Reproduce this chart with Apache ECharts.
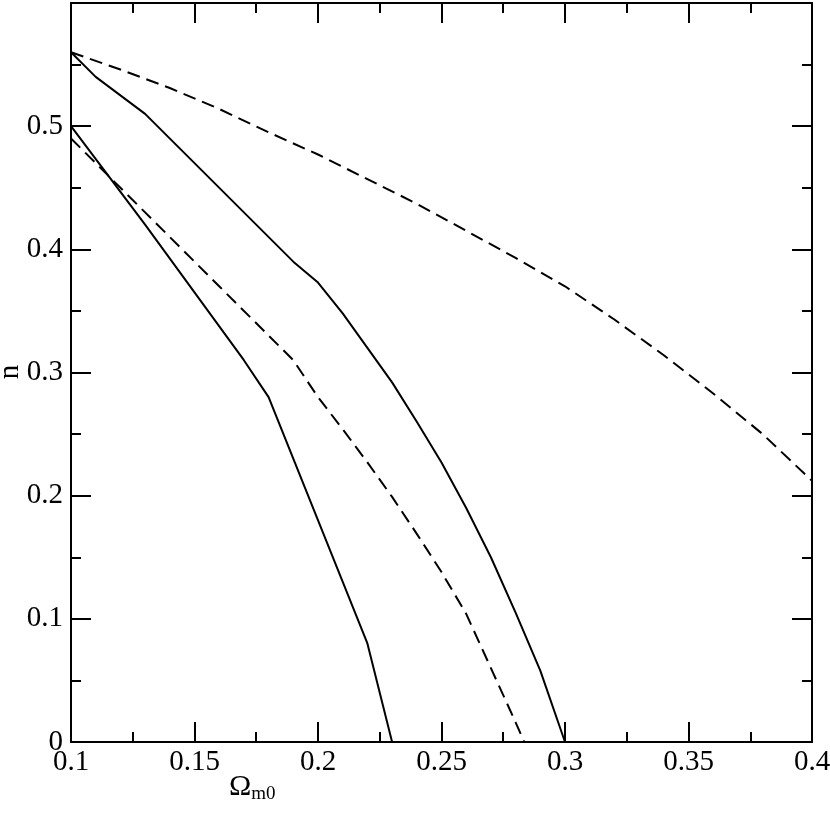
<!DOCTYPE html>
<html>
<head>
<meta charset="utf-8">
<script src="https://cdn.jsdelivr.net/npm/echarts@6/dist/echarts.min.js"></script>
<style>
  html, body { margin: 0; padding: 0; background: #fff; }
  #chart { width: 830px; height: 818px; }
</style>
</head>
<body>
<div id="chart"></div>
<script>
// solid curves
const solidOuterX = [0.1, 0.11, 0.13, 0.19, 0.2, 0.21, 0.22, 0.23, 0.24, 0.25, 0.26, 0.27, 0.28, 0.29, 0.3];
const solidOuterY = [0.56, 0.54, 0.51, 0.39, 0.373, 0.348, 0.32, 0.292, 0.26, 0.227, 0.19, 0.15, 0.105, 0.058, 0];
const solidInnerX = [0.1, 0.13, 0.17, 0.18, 0.22, 0.23];
const solidInnerY = [0.5, 0.42, 0.31, 0.28, 0.08, 0];

// dashed curves
const dashOuterX = [0.1, 0.12, 0.14, 0.16, 0.18, 0.2, 0.22, 0.24, 0.26, 0.28, 0.3, 0.32, 0.34, 0.36, 0.38, 0.4];
const dashOuterY = [0.56, 0.546, 0.531, 0.514, 0.495, 0.477, 0.457, 0.437, 0.415, 0.393, 0.37, 0.343, 0.314, 0.283, 0.25, 0.212];
const dashInnerX = [0.1, 0.13, 0.16, 0.19, 0.2, 0.21, 0.22, 0.23, 0.24, 0.25, 0.26, 0.27, 0.28, 0.2835];
const dashInnerY = [0.49, 0.43, 0.37, 0.31, 0.28, 0.254, 0.227, 0.199, 0.169, 0.138, 0.104, 0.06, 0.016, 0];

const FONT = "Liberation Serif";

function pairs(xs, ys) {
  return xs.map((x, i) => [x, ys[i]]);
}

function curve(xs, ys, dashed) {
  return {
    type: "line",
    data: pairs(xs, ys),
    showSymbol: false,
    silent: true,
    lineStyle: { color: "#000", width: 2, type: dashed ? [13, 7] : "solid" },
  };
}

const chart = echarts.init(document.getElementById("chart"), null, { renderer: "canvas" });

const tickCommon = {
  axisLine: { show: true, onZero: false, lineStyle: { color: "#000", width: 2 } },
  axisTick: { show: true, inside: true, length: 20, lineStyle: { color: "#000", width: 2 } },
  minorTick: { show: true, splitNumber: 2, length: 10, lineStyle: { color: "#000", width: 2 } },
  splitLine: { show: false },
};

const option = {
  animation: false,
  backgroundColor: "#fff",
  grid: { left: 71, right: 18, top: 3, bottom: 76, containLabel: false, outerBoundsMode: "none" },
  xAxis: [
    Object.assign({
      type: "value", min: 0.1, max: 0.4, interval: 0.05, position: "bottom",
      axisLabel: { color: "#000", fontFamily: FONT, fontSize: 29, margin: 6, hideOverlap: false },
    }, tickCommon),
    Object.assign({
      type: "value", min: 0.1, max: 0.4, interval: 0.05, position: "top",
      axisLabel: { show: false },
    }, tickCommon),
  ],
  yAxis: [
    Object.assign({
      type: "value", min: 0, max: 0.6, interval: 0.1, position: "left",
      axisLabel: {
        color: "#000", fontFamily: FONT, fontSize: 29, margin: 8,
        formatter: v => (v > 0.55 ? "" : String(+v.toFixed(2))),
      },
    }, tickCommon),
    Object.assign({
      type: "value", min: 0, max: 0.6, interval: 0.1, position: "right",
      axisLabel: { show: false },
    }, tickCommon),
  ],
  graphic: [
    {
      type: "text",
      x: 10,
      y: 372,
      rotation: Math.PI / 2,
      style: {
        text: "n", x: 0, y: 0, align: "center", verticalAlign: "middle",
        fontFamily: FONT, fontSize: 29, fill: "#000",
      },
    },
    {
      type: "text",
      left: 229,
      top: 772,
      style: {
        text: "{a|Ω}{b|m0}",
        rich: {
          a: { fontFamily: FONT, fontSize: 30, fill: "#000" },
          b: { fontFamily: FONT, fontSize: 19, fill: "#000", padding: [14, 0, 0, 0] },
        },
      },
    },
  ],
  series: [
    curve(solidOuterX, solidOuterY, false),
    curve(solidInnerX, solidInnerY, false),
    curve(dashOuterX, dashOuterY, true),
    curve(dashInnerX, dashInnerY, true),
  ],
};

chart.setOption(option);
</script>
</body>
</html>
